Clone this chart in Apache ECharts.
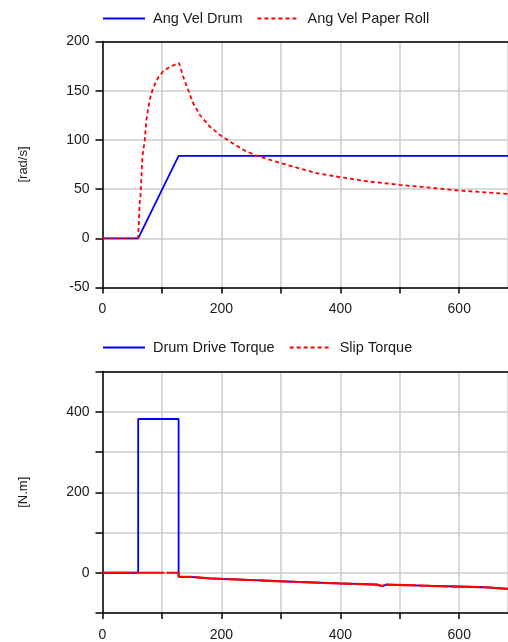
<!DOCTYPE html>
<html>
<head>
<meta charset="utf-8">
<script src="https://cdn.jsdelivr.net/npm/echarts@6/dist/echarts.min.js"></script>
<style>
  html, body { margin: 0; padding: 0; background: #fff; }
  #chart { width: 508px; height: 642px; }
</style>
</head>
<body>
<div id="chart"></div>
<script>
// Angular velocities [rad/s]
const drumVelTime = [0, 60, 128, 682];
const drumVel     = [0, 0, 83.8, 83.8];

const rollVelTime = [0, 60, 61.2, 62.7, 63.8, 67.2, 71.1, 73.9, 79.5, 85, 93.4, 101.8, 113, 128.7,
                     135.5, 143.9, 152.3, 163.5, 180.3, 197.1, 214, 239, 258.8, 300, 360, 400,
                     449, 500, 550, 600, 650, 682];
const rollVel     = [0, 0, 2, 39, 42, 83, 100, 120.5, 141, 152.7, 163, 169.7, 174.1, 178.2,
                     164.6, 151, 137.5, 125.6, 113.6, 105.2, 98.4, 89.2, 84, 76.4, 66.2, 62.1,
                     57.6, 54.3, 51.5, 48.5, 46.4, 45];

// Torques [N.m], stepwise: value holds from its start time to the next one
const slipTime   = [0, 128, 148, 180, 222, 273, 330, 398, 462, 470, 478, 552, 643, 682];
const slipTorque = [0, -10, -14, -16.5, -19.5, -23, -26.5, -29.5, -33, -29.5, -32.5, -36, -40, -40];

const driveTime   = [0, 60, 128, 148, 180, 222, 273, 330, 398, 462, 470, 478, 552, 643, 682];
const driveTorque = [0, 382, -10, -14, -16.5, -19.5, -23, -26.5, -29.5, -33, -29.5, -32.5, -36, -40, -40];

// Tick labels
const timeLabels   = [0, 200, 400, 600];
const velLabels    = [-50, 0, 50, 100, 150, 200];
const torqueLabels = [0, 200, 400];

const pairs = (xs, ys) => xs.map((x, i) => [x, ys[i]]);
const FONT = '"Liberation Sans", Arial, sans-serif';
const TEXT = '#1a1a1a';
const BLUE = '#0000ff';
const RED = '#ff0000';
const X_MAX = 682;

const labelOnly = (list) => (v) => (list.includes(v) ? String(v) : '');

function xAxisFor(gridIndex) {
  return {
    type: 'value', gridIndex, min: 0, max: X_MAX, interval: 100,
    axisLine: { show: true, onZero: false, lineStyle: { color: '#000', width: 1.5 } },
    axisTick: { show: true, length: 6, lineStyle: { color: '#000', width: 1.5 } },
    axisLabel: { color: TEXT, fontSize: 14, fontFamily: FONT, margin: 15,
                 formatter: labelOnly(timeLabels), showMaxLabel: false },
    splitLine: { show: true, lineStyle: { color: '#cdcdcd', width: 1.5 } }
  };
}

// plain frame line along the top of a plot
function topFrameFor(gridIndex) {
  return {
    type: 'value', gridIndex, position: 'top', min: 0, max: X_MAX,
    axisLine: { show: true, onZero: false, lineStyle: { color: '#000', width: 1.5 } },
    axisTick: { show: false }, axisLabel: { show: false }, splitLine: { show: false }
  };
}

function yAxisFor(gridIndex, min, max, interval, labels, name) {
  return {
    type: 'value', gridIndex, min, max, interval,
    name, nameLocation: 'middle', nameGap: 73,
    nameTextStyle: { color: TEXT, fontSize: 13, fontFamily: FONT },
    axisLine: { show: true, onZero: false, lineStyle: { color: '#000', width: 1.5 } },
    axisTick: { show: true, length: 7, lineStyle: { color: '#000', width: 1.5 } },
    axisLabel: { color: TEXT, fontSize: 14, fontFamily: FONT, margin: 13,
                 formatter: labelOnly(labels) },
    splitLine: { show: true, lineStyle: { color: '#cdcdcd', width: 1.5 } }
  };
}

const legendBase = {
  left: 97, itemWidth: 42, itemHeight: 14, itemGap: 14,
  itemStyle: { opacity: 0 },
  textStyle: { color: TEXT, fontSize: 14.5, fontFamily: FONT, padding: [0, 0, 0, 3] }
};

const chart = echarts.init(document.getElementById('chart'), null, { renderer: 'canvas' });
chart.setOption({
  animation: false,
  backgroundColor: '#fff',
  grid: [
    { left: 102.5, top: 41.5, width: 406, height: 246 },
    { left: 102.5, top: 371.5, width: 406, height: 244 }
  ],
  legend: [
    Object.assign({}, legendBase, {
      top: 6,
      data: ['Ang Vel Drum', { name: 'Ang Vel Paper Roll', lineStyle: { type: [4, 3] } }]
    }),
    Object.assign({}, legendBase, {
      top: 335,
      data: ['Drum Drive Torque', { name: 'Slip Torque', lineStyle: { type: [4, 3] } }]
    })
  ],
  xAxis: [xAxisFor(0), xAxisFor(1), topFrameFor(0), topFrameFor(1)],
  yAxis: [
    yAxisFor(0, -50, 200, 50, velLabels, '[rad/s]'),
    yAxisFor(1, -100, 500, 100, torqueLabels, '[N.m]')
  ],
  series: [
    {
      name: 'Ang Vel Drum', type: 'line', xAxisIndex: 0, yAxisIndex: 0,
      data: pairs(drumVelTime, drumVel), symbol: 'none',
      lineStyle: { color: BLUE, width: 1.8 }, itemStyle: { color: BLUE }
    },
    {
      name: 'Ang Vel Paper Roll', type: 'line', xAxisIndex: 0, yAxisIndex: 0,
      data: pairs(rollVelTime, rollVel), symbol: 'none',
      lineStyle: { color: RED, width: 1.8, type: [4, 3] }, itemStyle: { color: RED }
    },
    {
      name: 'Drum Drive Torque', type: 'line', xAxisIndex: 1, yAxisIndex: 1, step: 'end',
      data: pairs(driveTime, driveTorque), symbol: 'none',
      lineStyle: { color: BLUE, width: 1.8 }, itemStyle: { color: BLUE }
    },
    {
      name: 'Slip Torque', type: 'line', xAxisIndex: 1, yAxisIndex: 1, step: 'end',
      data: pairs(slipTime, slipTorque), symbol: 'none',
      lineStyle: { color: RED, width: 2.2, type: [30, 2] }, itemStyle: { color: RED }
    }
  ]
});
</script>
</body>
</html>
